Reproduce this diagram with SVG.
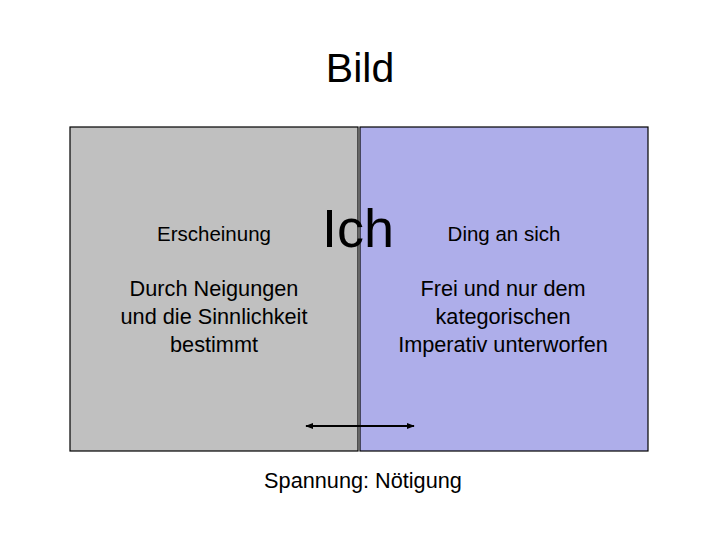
<svg xmlns="http://www.w3.org/2000/svg" width="720" height="540" viewBox="0 0 720 540">
<style>
text{font-family:"Liberation Sans",Arial,sans-serif;fill:#000;text-anchor:middle}
.box{stroke:#000;stroke-width:1.2}
.lbl{font-size:21.7px}
.small{font-size:20.5px}
</style>
<defs>
<marker id="ah" viewBox="0 0 10 10" refX="9" refY="5" markerWidth="8" markerHeight="8" orient="auto-start-reverse" markerUnits="userSpaceOnUse">
<path d="M0,1 L10,5 L0,9 Z" fill="#000"/>
</marker>
</defs>
<rect width="720" height="540" fill="#fff"/>
<text x="360" y="82" font-size="41">Bild</text>
<g id="erscheinung">
<rect class="box" x="70" y="127" width="288" height="324" fill="#c0c0c0"/>
<text class="small" x="214" y="241">Erscheinung</text>
<text class="lbl" x="214" y="296">Durch Neigungen</text>
<text class="lbl" x="214" y="324">und die Sinnlichkeit</text>
<text class="lbl" x="214" y="352">bestimmt</text>
</g>
<g id="ding">
<rect class="box" x="360" y="127" width="288" height="324" fill="#aeaeea"/>
<text class="small" x="504" y="241">Ding an sich</text>
<text class="lbl" x="503" y="296">Frei und nur dem</text>
<text class="lbl" x="503" y="324">kategorischen</text>
<text class="lbl" x="503" y="352">Imperativ unterworfen</text>
</g>
<g id="ich">
<text x="358" y="247" font-size="54">Ich</text>
</g>
<g id="connectors">
<line x1="306" y1="426" x2="414" y2="426" stroke="#000" stroke-width="2" marker-start="url(#ah)" marker-end="url(#ah)"/>
</g>
<g id="spannung">
<text class="lbl" x="363" y="488">Spannung: Nötigung</text>
</g>
</svg>
